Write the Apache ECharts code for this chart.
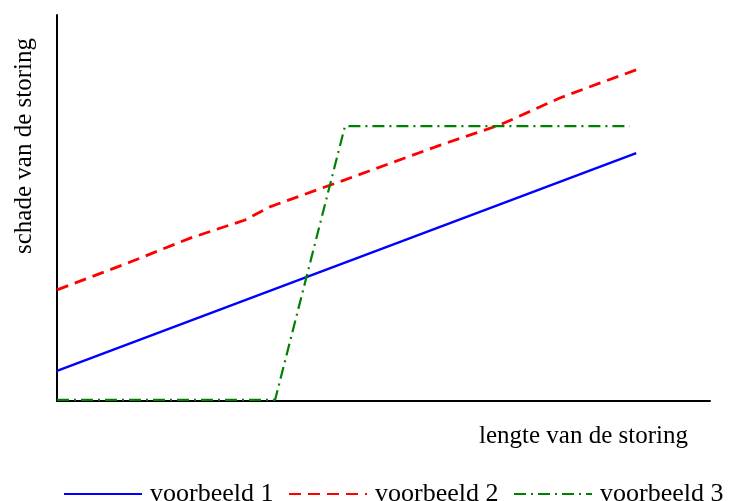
<!DOCTYPE html>
<html>
<head>
<meta charset="utf-8">
<script src="https://cdn.jsdelivr.net/npm/echarts@6/dist/echarts.min.js"></script>
<style>html,body{margin:0;padding:0;background:#fff}#c{width:731px;height:501px}</style>
</head>
<body>
<div id="c"></div>
<script>
const seriesNames = ['voorbeeld 1', 'voorbeeld 2', 'voorbeeld 3'];
const xTitle = 'lengte van de storing';
const yTitle = 'schade van de storing';
// [x, y] in relative units (axes 0..100, no tick labels)
const voorbeeld1 = [[0, 7.8], [88.7, 64.2]];
const voorbeeld2 = [[0, 28.8], [11.2, 36.0], [20.4, 42.2], [28.8, 46.9], [32.6, 50.3], [44.1, 57.3], [58.7, 66.3], [67.8, 71.5], [77.0, 78.5], [83.2, 82.4], [88.7, 85.8]];
const voorbeeld3 = [[0, 0.3], [33.4, 0.3], [44.1, 71.2], [87.7, 71.2]];

const FONT = 'Liberation Serif';
const chart = echarts.init(document.getElementById('c'), null, {renderer: 'canvas'});
const legendText = {fontFamily: FONT, fontSize: 26, color: '#000', padding: [0, 0, 0, 3]};
function leg(name, left) {
  return {data: [name], left: left, top: 476, itemWidth: 78, itemHeight: 14, itemGap: 0,
          textStyle: legendText, itemStyle: {opacity: 0}};
}
chart.setOption({
  animation: false,
  grid: {left: 57, right: 21, top: 15, bottom: 100},
  xAxis: {type: 'value', min: 0, max: 100,
          axisLine: {show: true, lineStyle: {color: '#000', width: 2}},
          axisTick: {show: false}, axisLabel: {show: false}, splitLine: {show: false}},
  yAxis: {type: 'value', min: 0, max: 100,
          axisLine: {show: true, lineStyle: {color: '#000', width: 2}},
          axisTick: {show: false}, axisLabel: {show: false}, splitLine: {show: false}},
  legend: [leg(seriesNames[0], 58), leg(seriesNames[1], 283), leg(seriesNames[2], 508)],
  graphic: [
    {type: 'text', left: 479, top: 424, style: {text: xTitle, font: '25px "' + FONT + '"', fill: '#000'}},
    {type: 'text', x: 24, y: 146, rotation: Math.PI / 2,
     style: {text: yTitle, font: '25px "' + FONT + '"', fill: '#000', align: 'center', verticalAlign: 'middle'}}
  ],
  series: [
    {name: seriesNames[0], type: 'line', data: voorbeeld1, symbol: 'none',
     lineStyle: {color: '#0000ff', width: 2.3}, itemStyle: {color: '#0000ff'}},
    {name: seriesNames[1], type: 'line', data: voorbeeld2, symbol: 'none',
     lineStyle: {color: '#ff0000', width: 2.8, type: [12, 7]}, itemStyle: {color: '#ff0000'}},
    {name: seriesNames[2], type: 'line', data: voorbeeld3, symbol: 'none',
     lineStyle: {color: '#008000', width: 2.2, type: [12, 5, 2, 5]}, itemStyle: {color: '#008000'}}
  ]
});
</script>
</body>
</html>
